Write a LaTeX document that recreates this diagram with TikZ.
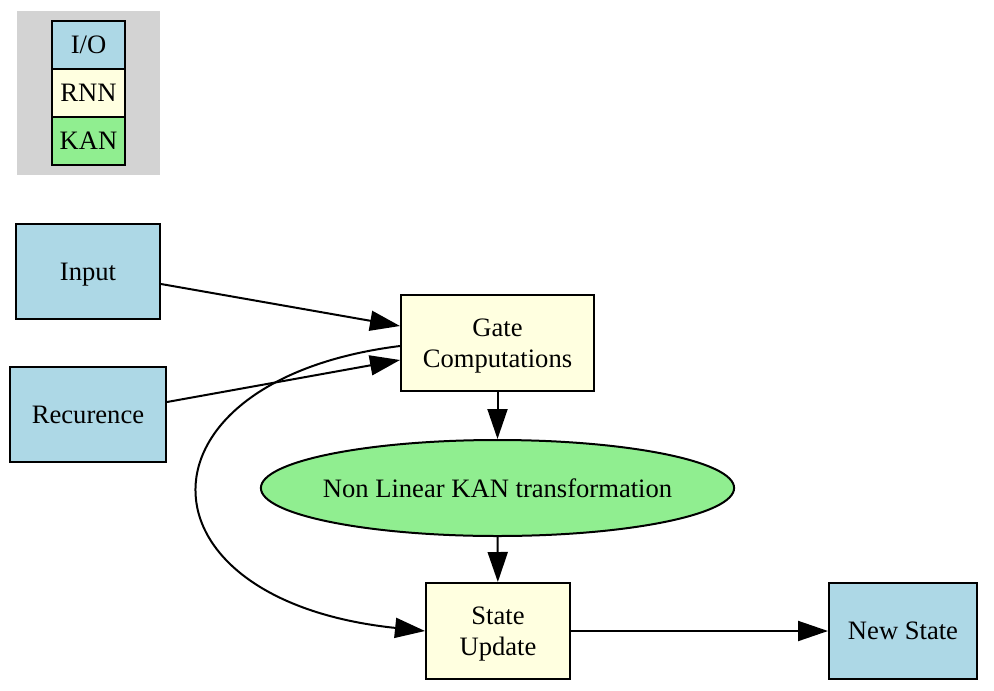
\documentclass[tikz,border=0pt]{standalone}
\usepackage{fontspec}
\setmainfont{Liberation Serif}
\usetikzlibrary{arrows.meta,shapes.geometric}
\definecolor{iocol}{HTML}{ADD8E6}
\definecolor{rnncol}{HTML}{FFFFE0}
\definecolor{kancol}{HTML}{90EE90}
\definecolor{legbg}{HTML}{D3D3D3}
\begin{document}
\begin{tikzpicture}[x=0.5pt,y=-0.5pt,
  every node/.style={font=\fontsize{13.3}{15.5}\selectfont, align=center, inner sep=0pt, text depth=0pt},
  box/.style={draw=black, line width=1pt, rectangle},
  io/.style={box, fill=iocol},
  rnn/.style={box, fill=rnncol},
  kan/.style={draw=black, line width=1pt, ellipse, fill=kancol},
  arr/.style={-{Triangle[length=15pt,width=10pt]}, line width=1pt, black},
  cell/.style={box, minimum width=36.5pt, minimum height=24pt}]
\useasboundingbox (0,0) rectangle (994,690);
% legend
\fill[legbg] (17,11) rectangle (160,175);
\node[cell, fill=iocol] (lio) at (88.5,45) {I/O};
\node[cell, fill=rnncol] (lrnn) at (88.5,93) {RNN};
\node[cell, fill=kancol] (lkan) at (88.5,140.5) {KAN};
% nodes
\node[io, minimum width=72pt, minimum height=47.5pt] (input) at (88,271.5) {Input};
\node[io, minimum width=78pt, minimum height=47.5pt] (rec) at (88,414.5) {Recurence};
\node[rnn, minimum width=96.5pt, minimum height=48pt] (gate) at (497.5,343) {Gate\\Computations};
\node[kan, inner xsep=-3.7pt, minimum width=236.5pt, minimum height=48pt] (kanT) at (497.5,488) {Non Linear KAN transformation};
\node[rnn, minimum width=72pt, minimum height=48pt] (state) at (498,631) {State\\Update};
\node[io, minimum width=74pt, minimum height=48pt] (new) at (903,631) {New State};
% edges
\draw[arr] (input.east |- 0,284) -- (gate.west |- 0,326);
\draw[arr] (rec.east |- 0,402) -- (gate.west |- 0,360);
\draw[arr] (gate) -- (kanT);
\draw[arr] (kanT) -- (state);
\draw[arr] (state) -- (new);
\draw[arr] (gate.west |- 0,346) .. controls (128,380) and (128,600) .. (state.west |- 0,631);
\end{tikzpicture}
\end{document}
